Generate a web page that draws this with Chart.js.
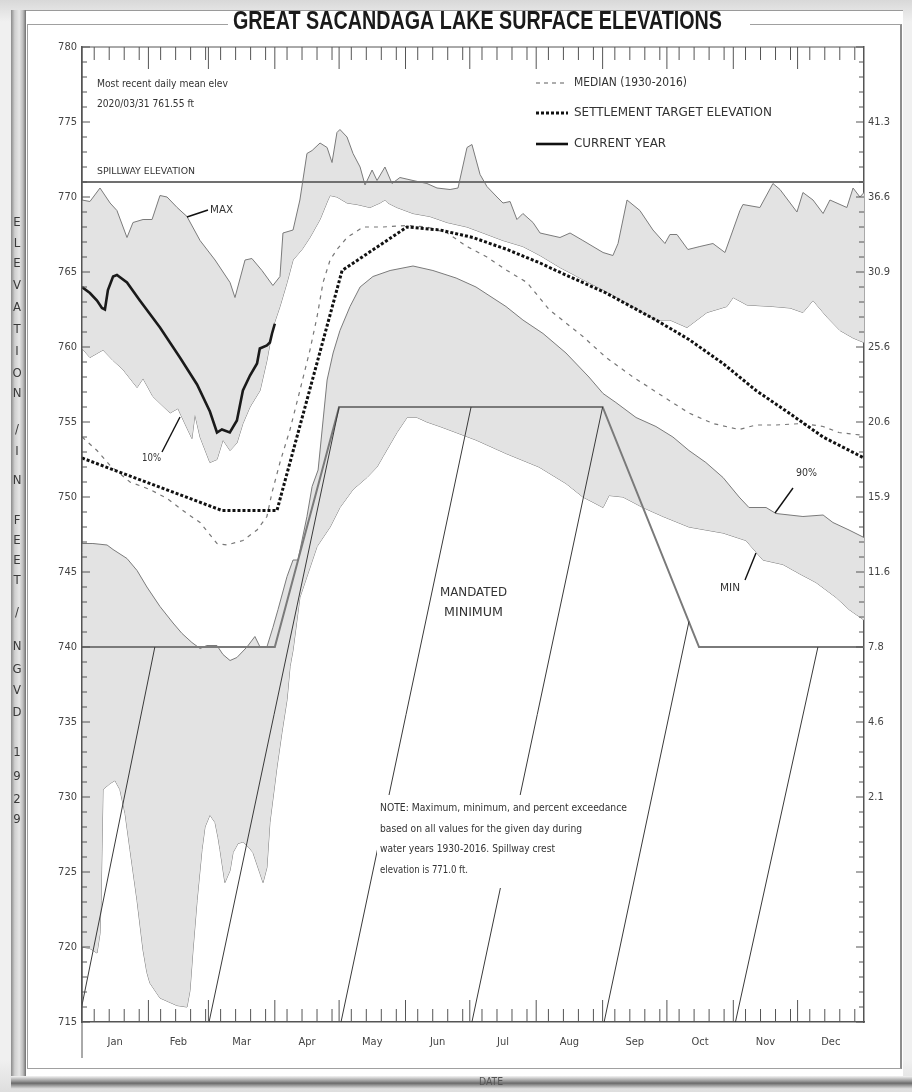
<!DOCTYPE html>
<html>
<head>
<meta charset="utf-8">
<script src="https://cdn.jsdelivr.net/npm/chart.js@4.4.1/dist/chart.umd.min.js"></script>
<style>
    html, body { margin: 0; padding: 0; }
    body { width: 912px; height: 1092px; position: relative; overflow: hidden;
           background: linear-gradient(#d8d8d8, #f0f0f0 2%, #f0f0f0 97%, #dedede); }
    .panel { position: absolute; left: 11px; top: 10px; width: 892px; height: 1067px; background: #fff; border-top: 1px solid #9a9a9a; }
    .lbar { position: absolute; left: 11px; top: 10px; width: 15px; height: 1078px;
            background: linear-gradient(to right, #8a8a8a, #cfcfcf 25%, #e6e6e6 55%, #bdbdbd 80%, #6f6f6f); }
    .inner { position: absolute; left: 27px; top: 24px; width: 872px; height: 1043px;
             border: 1px solid #a0a0a0; border-right: 2px solid #8c8c8c; }
    .bbar { position: absolute; left: 11px; top: 1076px; width: 901px; height: 13px;
            background: linear-gradient(#f4f4f4, #8a8a8a 45%, #6a6a6a 55%, #e4e4e4); }
    canvas { position: absolute; left: 0; top: 0; }
</style>
</head>
<body>
<div class="panel"></div>
<div class="lbar"></div>
<div class="inner"></div>
<div class="bbar"></div>
<canvas id="lake-chart" width="912" height="1092"></canvas>

<script>
// Great Sacandaga Lake surface elevations (ft, NGVD 1929), x = day of year

const monthNames = ['Jan', 'Feb', 'Mar', 'Apr', 'May', 'Jun', 'Jul', 'Aug', 'Sep', 'Oct', 'Nov', 'Dec'];
const monthStarts = [0, 31, 59, 90, 120, 151, 181, 212, 243, 273, 304, 334, 365];
const weekTickOffsets = [5.7, 12.7, 19.7, 26.7];

const spillwayElev = 771;

// right-hand axis labels, placed at these elevations
const storageElevs = [775, 770, 765, 760, 755, 750, 745, 740, 735, 730];
const storageLabels = ['41.3', '36.6', '30.9', '25.6', '20.6', '15.9', '11.6', '7.8', '4.6', '2.1'];

const maxCurve = [[0,769.8],[3.7,769.7],[8.4,770.6],[13.1,769.6],[16.3,769.1],[21,767.3],[23.8,768.3],[28.5,768.5],
    [32.7,768.5],[36.4,770.1],[39.7,770.0],[44.4,769.3],[49,768.7],[55.1,767.1],[62.1,765.8],[69.1,764.3],[71.4,763.3],
    [76.1,765.8],[79.3,765.9],[84,765.1],[89.1,764.1],[92.4,764.7],[93.8,767.6],[98.5,767.8],[101.7,769.8],[105,772.9],
    [107.4,773.1],[111.1,773.6],[114.4,773.3],[116.7,772.3],[119,774.3],[120.4,774.5],[123.7,774.0],[126.5,772.9],
    [129.8,772.0],[132.1,770.8],[135.4,771.8],[137.7,771.1],[141.4,772.0],[144.7,770.9],[148.4,771.3],[154.5,771.1],
    [161,770.9],[165.7,770.6],[171.8,770.5],[175.5,770.6],[179.7,773.3],[182,773.5],[185.8,771.5],[189,770.7],
    [193.7,770.0],[196.5,769.6],[199.8,769.7],[203,768.5],[205.8,768.9],[210.5,768.3],[213.8,767.6],[223.1,767.3],
    [227.8,767.6],[233.8,767.1],[243.2,766.3],[247.8,766.1],[250.2,766.9],[254.4,769.8],[260.4,769.1],[266.5,767.8],
    [272.1,766.9],[274.4,767.5],[277.7,767.5],[282.8,766.5],[288.4,766.7],[294.5,766.9],[300.1,766.3],[307.1,769.1],
    [308.5,769.5],[316.4,769.3],[322.5,770.9],[325.8,770.5],[333.7,769.0],[336.5,770.3],[341.2,769.8],[345.9,768.9],
    [349.1,769.8],[357,769.3],[359.9,770.6],[363.1,770.0],[365,770.3]];

const p10Curve = [[0,759.9],[3.7,759.3],[9.8,759.8],[14.5,759.1],[19.1,758.5],[25.7,757.3],[28.5,757.9],[33.1,756.7],
    [41.1,755.6],[44.8,755.9],[46.7,755.3],[51.3,753.9],[52.7,755.5],[55.1,754.0],[59.7,752.3],[63,752.5],[65.8,753.8],
    [69.1,753.1],[72.3,753.6],[75.1,754.9],[78.4,756.0],[83.1,757.1],[86.3,759.1],[89.1,761.3],[92.4,762.7],[95.7,764.3],
    [98.5,765.8],[102.7,766.5],[106.4,767.3],[111.1,768.5],[114.8,769.8],[115.8,770.1],[119,770.0],[123.7,769.6],
    [128.4,769.5],[134.4,769.3],[139.1,769.6],[141.4,769.8],[142.8,769.6],[147,769.3],[154.5,768.9],[162.4,768.7],
    [170.4,768.3],[179.7,768.0],[187.2,767.6],[196.5,767.1],[205.8,766.7],[213.8,766.1],[223.1,765.3],[232.4,764.6],
    [244.6,763.7],[255.8,762.8],[267.9,761.8],[274.4,761.8],[282.4,761.3],[291.7,762.3],[301,762.7],[303.9,763.3],
    [310.4,762.8],[322.5,762.7],[330.5,762.6],[336.5,762.3],[341.2,763.1],[347.7,762.0],[353.8,761.1],[359.9,760.6],
    [365,760.3]];

const p90Curve = [[0,746.9],[5.1,746.9],[11.7,746.8],[14.5,746.5],[21,745.9],[25.7,745.1],[30.3,744.0],[36.4,742.7],
    [42.5,741.6],[46.7,740.9],[51.3,740.3],[55.1,739.9],[58.3,740.1],[63,740.1],[65.8,739.5],[69.1,739.1],[72.3,739.3],
    [77,740.0],[80.7,740.7],[83.1,740.0],[86.3,740.0],[89.1,741.3],[91.5,742.5],[95.7,744.7],[98.5,745.8],[100.8,745.8],
    [105,748.7],[107.4,750.7],[110.2,751.8],[114.4,757.8],[117.2,759.6],[120.4,761.1],[125.1,762.7],[129.8,764.0],
    [135.8,764.7],[143.8,765.1],[154.5,765.4],[163.8,765.1],[174.6,764.6],[183.9,764.0],[197.9,762.7],[205.8,761.8],
    [215.2,760.9],[225.9,759.6],[236.6,758.0],[243.2,756.9],[249.2,756.3],[258.6,755.3],[267.9,754.7],[275.8,754.0],
    [283.3,753.1],[291.2,752.3],[299.2,751.3],[306.7,750.0],[311.3,749.3],[319.3,749.3],[323.9,748.9],[336.5,748.7],
    [345.9,748.8],[350.5,748.3],[358,747.8],[365,747.3]];

const minCurve = [[0,720.0],[3.7,719.9],[7,719.6],[8.4,720.9],[8.9,723.1],[9.8,730.5],[13.1,730.9],[15.4,731.1],
    [17.7,730.5],[20.1,728.9],[22.4,726.5],[25.7,723.1],[28.5,719.8],[30.3,718.3],[31.7,717.6],[36.4,716.6],[44.3,716.1],
    [49,716.0],[50.4,717.1],[51.8,719.8],[53.7,723.1],[56,726.5],[57.4,728.0],[59.7,728.8],[62.1,728.3],[63.5,727.3],
    [64.4,726.5],[66.7,724.3],[69.1,725.1],[70.5,726.3],[72.8,726.9],[75.1,727.0],[77.5,726.7],[79.8,726.3],[83.1,724.9],
    [84.5,724.3],[86.3,725.3],[87.7,728.3],[91,732.0],[93.3,734.3],[95.7,736.5],[97.1,738.7],[98.5,739.8],[101.7,743.3],
    [109.7,746.7],[115.8,748.0],[120.4,749.3],[126.5,750.5],[133,751.3],[137.7,752.0],[140.5,752.7],[147,754.3],
    [151.7,755.3],[156.4,755.3],[161,755.0],[167.1,754.7],[174.6,754.3],[183.9,753.8],[197.9,752.9],[213.3,752.0],
    [225.9,750.9],[233.8,750.0],[243.2,749.3],[246,750.1],[252.5,750.0],[261.8,749.3],[271.2,748.7],[283.3,748.0],
    [299.2,747.6],[309.9,747.1],[317.8,745.8],[327.2,745.5],[334.7,744.9],[342.6,744.3],[352,743.3],[358,742.5],
    [365,741.8]];

const medianCurve = [[0,754.0],[7,753.1],[13.1,752.1],[22.4,751.0],[31.7,750.5],[39.7,749.9],[49,748.9],[55.1,748.3],
    [63,746.9],[67.7,746.8],[75.1,747.1],[81.7,747.8],[86.3,748.7],[88.7,750.3],[92.4,752.3],[97.1,754.5],[101.7,757.1],
    [106.4,759.8],[109.7,762.0],[112.5,764.3],[115.8,765.8],[119,766.5],[123.7,767.3],[131.2,768.0],[140.5,768.0],
    [151.7,768.1],[161,768.0],[170.4,767.6],[179.7,766.7],[189,766.0],[198.4,765.1],[207.7,764.3],[218,762.5],
    [233.8,760.7],[244.6,759.3],[257.2,758.0],[271.2,756.7],[283.3,755.6],[294.5,754.9],[306.7,754.5],[314.6,754.8],
    [323.9,754.8],[336.5,754.9],[345.9,754.7],[353.3,754.3],[365,754.1]];

const targetCurve = [[0,752.6],[65.3,749.1],[91,749.1],[121.4,765.1],[151.7,768.0],[167.1,767.8],[182.5,767.3],
    [198.4,766.5],[213.8,765.6],[221.2,765.1],[244.6,763.6],[267.9,761.8],[283.3,760.5],[299.2,758.9],[314.6,757.1],
    [330,755.6],[345.9,754.0],[365,752.6]];

const currentYear = [[0,764.0],[3.7,763.6],[7,763.1],[9.3,762.6],[10.7,762.5],[12.1,763.8],[14.5,764.7],[16.3,764.8],
    [21,764.3],[27,763.1],[36.4,761.3],[45.7,759.3],[53.7,757.5],[59.7,755.7],[63,754.3],[65.3,754.5],[69,754.3],
    [72.3,755.1],[75.1,757.1],[78.4,758.1],[81.7,758.9],[83,759.9],[86.3,760.1],[87.7,760.3],[88.7,760.9],[90,761.55]];

const mandatedMin = [[0,740],[90,740],[120,756],[243,756],[288,740],[365,740]];

// hatch lines in the mandated-minimum zone: start on the 715 ft axis, end on the minimum line
const hatchBaseDays = [-1.6, 59.3, 120.9, 182, 243.7, 305];
const hatchTopDays = [34, 120, 181.6, 243, 283.3, 343.5];
const hatchTopElevs = [740, 756, 756, 756, 741.7, 740];

const NARROW = "'Liberation Sans Narrow', 'Arial Narrow', 'DejaVu Sans Condensed', sans-serif";
const SANS = "'Liberation Sans', Arial, sans-serif";
const LINE_GREY = '#7a7a7a';
const FILL_GREY = '#e3e3e3';

function pts(pairs) {
    return pairs.map(p => ({ x: p[0], y: p[1] }));
}

// draw text squeezed/stretched to a given width
function fitText(ctx, str, x, y, w, font, color) {
    ctx.save();
    ctx.font = font;
    ctx.fillStyle = color || '#333';
    ctx.textBaseline = 'middle';
    ctx.textAlign = 'left';
    const m = ctx.measureText(str).width;
    ctx.translate(x, y);
    ctx.scale(w / m, 1);
    ctx.fillText(str, 0, 0);
    ctx.restore();
}

function seg(ctx, x1, y1, x2, y2) {
    ctx.beginPath();
    ctx.moveTo(x1, y1);
    ctx.lineTo(x2, y2);
    ctx.stroke();
}

const hatchSets = hatchBaseDays.map((d, i) => ({
    data: [{ x: d, y: 715 }, { x: hatchTopDays[i], y: hatchTopElevs[i] }],
    borderColor: '#3a3a3a', borderWidth: 1, fill: false, order: 3
}));

const datasets = [
    { label: 'Current year', data: pts(currentYear), borderColor: '#1a1a1a', borderWidth: 2.6, fill: false, order: 0 },
    { label: 'Settlement target', data: pts(targetCurve), borderColor: '#111', borderWidth: 3, borderDash: [3, 2], fill: false, order: 1 },
    { label: 'Median', data: pts(medianCurve), borderColor: '#777', borderWidth: 1.2, borderDash: [4, 5], fill: false, order: 2 },
    { label: 'Mandated minimum', data: pts(mandatedMin), borderColor: '#7a7a7a', borderWidth: 2, fill: false, order: 4 },
    { label: 'Spillway', data: [{ x: 0, y: spillwayElev }, { x: 365, y: spillwayElev }], borderColor: '#707070', borderWidth: 1.8, fill: false, order: 5 },
    { label: 'Max', data: pts(maxCurve), borderColor: LINE_GREY, borderWidth: 1, fill: '+1', backgroundColor: FILL_GREY, order: 6 },
    { label: '10%', data: pts(p10Curve), borderColor: LINE_GREY, borderWidth: 1, fill: false, order: 6 },
    { label: '90%', data: pts(p90Curve), borderColor: LINE_GREY, borderWidth: 1, fill: '+1', backgroundColor: FILL_GREY, order: 7 },
    { label: 'Min', data: pts(minCurve), borderColor: LINE_GREY, borderWidth: 1, fill: false, order: 7 }
].concat(hatchSets);

// tick marks, labels and frame text
const decorPlugin = {
    id: 'decor',
    afterDatasetsDraw(chart) {
        const { ctx, chartArea: a, scales: { x, y } } = chart;
        ctx.save();
        ctx.strokeStyle = '#555';
        ctx.lineWidth = 1;

        // plot border top + left axis extension
        seg(ctx, a.left, a.top, a.right, a.top);
        seg(ctx, a.left, a.top, a.left, 1058);

        // elevation ticks, both sides, pointing inward
        for (let v = 715; v <= 780; v++) {
            const py = y.getPixelForValue(v);
            const len = v % 5 === 0 ? 8 : 5;
            seg(ctx, a.left, py, a.left + len, py);
            seg(ctx, a.right - len, py, a.right, py);
        }

        // date ticks, top and bottom
        for (let i = 0; i < 12; i++) {
            const s = monthStarts[i];
            if (i > 0) {
                const px = x.getPixelForValue(s);
                seg(ctx, px, a.bottom, px, a.bottom - 22);
                seg(ctx, px, a.top, px, a.top + 22);
            }
            weekTickOffsets.forEach(o => {
                const px = x.getPixelForValue(s + o);
                seg(ctx, px, a.bottom, px, a.bottom - 13);
                seg(ctx, px, a.top, px, a.top + 13);
            });
        }

        // note box (white) over hatching
        ctx.fillStyle = '#fff';
        ctx.fillRect(377, 795, 253, 93);
        const noteFont = '11px ' + NARROW;
        fitText(ctx, 'NOTE: Maximum, minimum, and percent exceedance', 380, 808, 247, noteFont);
        fitText(ctx, 'based on all values for the given day during', 380, 829, 202, noteFont);
        fitText(ctx, 'water years 1930-2016. Spillway crest', 380, 849, 175, noteFont);
        fitText(ctx, 'elevation is 771.0 ft.', 380, 870, 88, noteFont);

        // text annotations
        const small = '11px ' + NARROW;
        fitText(ctx, 'Most recent daily mean elev', 97, 84, 131, small);
        fitText(ctx, '2020/03/31 761.55 ft', 97, 104, 97, small);
        fitText(ctx, 'SPILLWAY ELEVATION', 97, 172, 98, '9px ' + NARROW);
        fitText(ctx, 'MAX', 210, 210, 23, small);
        fitText(ctx, '10%', 142, 458, 19, small);
        fitText(ctx, '90%', 796, 473, 21, small);
        fitText(ctx, 'MIN', 720, 588, 20, small);
        fitText(ctx, 'MANDATED', 440, 593, 67, '12px ' + NARROW);
        fitText(ctx, 'MINIMUM', 444, 613, 59, '12px ' + NARROW);

        // leader lines
        ctx.strokeStyle = '#111';
        ctx.lineWidth = 1.4;
        seg(ctx, 187, 217, 208, 210);
        seg(ctx, 162, 452, 180, 417);
        seg(ctx, 793, 488, 775, 513);
        seg(ctx, 745, 580, 756, 553);

        // legend
        ctx.strokeStyle = '#777';
        ctx.lineWidth = 1.2;
        ctx.setLineDash([4, 4]);
        seg(ctx, 536, 83, 568, 83);
        ctx.strokeStyle = '#111';
        ctx.lineWidth = 3;
        ctx.setLineDash([3, 2]);
        seg(ctx, 536, 113, 568, 113);
        ctx.setLineDash([]);
        ctx.lineWidth = 2.6;
        seg(ctx, 536, 144, 568, 144);
        const legFont = '12.5px ' + NARROW;
        fitText(ctx, 'MEDIAN (1930-2016)', 574, 83, 113, legFont);
        fitText(ctx, 'SETTLEMENT TARGET ELEVATION', 574, 113, 198, legFont);
        fitText(ctx, 'CURRENT YEAR', 574, 144, 92, legFont);
        ctx.restore();
    },
    afterDraw(chart) {
        const ctx = chart.ctx;
        ctx.save();
        // title, breaking the inner frame line
        ctx.fillStyle = '#fff';
        ctx.fillRect(228, 11, 522, 22);
        fitText(ctx, 'GREAT SACANDAGA LAKE SURFACE ELEVATIONS', 233, 22, 489, 'bold 25px ' + SANS, '#1a1a1a');

        // vertical axis title, one letter per line
        const letters = 'ELEVATION/INFEET/NGVD1929'.split('');
        const ys = [223, 244, 264, 286, 308, 330, 352, 374, 394, 430, 452, 481, 521, 541, 561, 581, 613, 647, 670, 691, 713, 753, 777, 800, 820];
        ctx.font = '13px ' + NARROW;
        ctx.fillStyle = '#3a3a3a';
        ctx.textAlign = 'center';
        ctx.textBaseline = 'middle';
        letters.forEach((ch, i) => ctx.fillText(ch, 17, ys[i]));

        fitText(ctx, 'DATE', 479, 1082, 24, '10px ' + NARROW, '#555');
        ctx.restore();
    }
};

const tickFont = { family: NARROW, size: 11 };

new Chart(document.getElementById('lake-chart').getContext('2d'), {
    type: 'line',
    data: { datasets: datasets },
    options: {
        responsive: false,
        animation: false,
        devicePixelRatio: 1,
        layout: { padding: { top: 47, left: 0, right: 0, bottom: 0 } },
        elements: { point: { radius: 0 }, line: { tension: 0 } },
        plugins: { legend: { display: false }, tooltip: { enabled: false } },
        scales: {
            x: {
                type: 'linear', min: 0, max: 365,
                grid: { display: false, drawTicks: false },
                border: { color: '#555', width: 1.5 },
                afterBuildTicks: s => {
                    s.ticks = monthNames.map((m, i) => ({ value: (monthStarts[i] + monthStarts[i + 1]) / 2 }));
                },
                afterFit: s => { s.height = 70; },
                ticks: { autoSkip: false, maxRotation: 0, padding: 14, color: '#444', font: tickFont,
                         callback: (v, i) => monthNames[i] }
            },
            y: {
                min: 715, max: 780,
                grid: { display: false, drawTicks: false },
                border: { color: '#555', width: 1.5 },
                afterFit: s => { s.width = 82; },
                ticks: { stepSize: 5, padding: 5, color: '#444', font: tickFont }
            },
            y2: {
                position: 'right', min: 715, max: 780,
                grid: { display: false, drawTicks: false },
                border: { color: '#555', width: 1.5 },
                afterFit: s => { s.width = 48; },
                ticks: { stepSize: 5, padding: 4, color: '#444', font: tickFont,
                         callback: v => {
                             const k = storageElevs.indexOf(v);
                             return k >= 0 ? storageLabels[k] : '';
                         } }
            }
        }
    },
    plugins: [decorPlugin]
});
</script>
</body>
</html>
